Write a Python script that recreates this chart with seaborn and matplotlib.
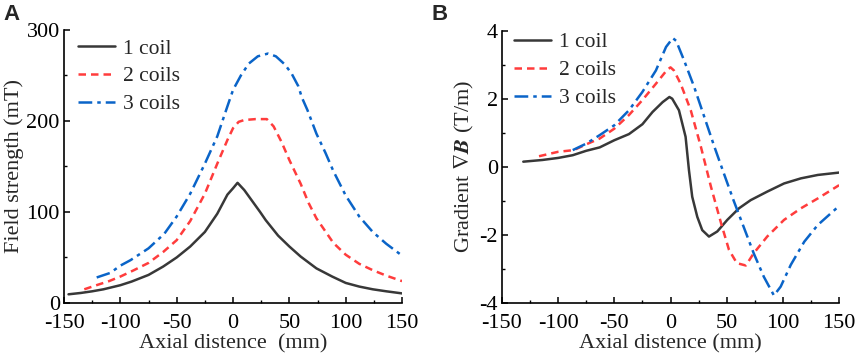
import matplotlib
matplotlib.use("Agg")
import matplotlib.pyplot as plt
import seaborn as sns
from matplotlib.ticker import MultipleLocator

# ---- Panel A: field strength (mT) ----
a1_x = [-146, -135, -125, -115, -100, -90, -75, -62, -50, -38, -25, -14, -5, 0, 4,
        10, 17, 24, 29, 40, 50, 60, 74, 88, 100, 112, 124, 136, 150]
a1_y = [9.5, 11, 12.8, 15, 19.5, 23.5, 30.8, 40, 50, 62, 78, 98, 119, 126, 132,
        124, 112, 100, 91, 74, 62, 51, 38, 29, 22, 18, 15, 12.8, 10.5]

a2_x = [-132, -120, -110, -100, -88, -75, -62, -50, -38, -25, -14, -5, 0, 5, 10,
        20, 30, 36, 43, 50, 60, 67, 74, 89, 100, 112, 124, 136, 150]
a2_y = [15, 20, 24, 29, 36, 44, 56, 69, 90, 120, 153, 179, 192, 199, 201,
        202, 202, 194, 177, 157, 131, 110, 93, 66, 53, 43, 36, 30, 24]

a3_x = [-121, -109, -100, -91, -75, -61, -50, -38, -25, -14, -5, 0, 7, 14, 22,
        31, 38, 46, 52, 58, 61, 66, 74, 82, 89, 100, 112, 124, 136, 150]
a3_y = [28, 33, 41, 47, 60, 76, 95, 120, 153, 183, 216, 234, 250, 263, 271,
        274, 271, 262, 252, 238, 226, 212, 186, 165, 145, 118, 95, 78, 65, 52]

# ---- Panel B: gradient (T/m) ----
b1_x = [-131, -114, -100, -87, -75, -63, -50, -37, -25, -16, -7, -1, 1.5, 7.5,
        13.4, 16.4, 19.3, 23.8, 28.2, 34.2, 41.6, 50.5, 60.9, 71.3, 86, 101,
        116, 131, 150]
b1_y = [0.15, 0.2, 0.26, 0.34, 0.47, 0.57, 0.78, 0.96, 1.25, 1.61, 1.9, 2.05,
        2.0, 1.66, 0.88, -0.1, -0.88, -1.47, -1.86, -2.05, -1.9, -1.56, -1.22,
        -0.98, -0.73, -0.49, -0.34, -0.24, -0.17]

b2_x = [-117, -100, -86, -75, -63, -50, -37, -25, -13, -3, 0, 3, 9, 18, 27, 36,
        45, 52, 59, 67, 74, 86, 101, 116, 131, 150]
b2_y = [0.31, 0.44, 0.49, 0.66, 0.83, 1.12, 1.52, 1.96, 2.44, 2.85, 2.92, 2.83,
        2.44, 1.66, 0.59, -0.59, -1.66, -2.44, -2.83, -2.9, -2.54, -2.05, -1.56,
        -1.22, -0.93, -0.54]

b3_x = [-87, -75, -63, -50, -37, -25, -13, -4, 2, 5, 12, 21, 30, 39, 47.5, 56,
        65, 74, 83, 92, 98, 107, 119, 131, 150]
b3_y = [0.49, 0.68, 0.93, 1.22, 1.66, 2.2, 2.83, 3.52, 3.78, 3.7, 3.13, 2.35,
        1.47, 0.59, -0.2, -0.98, -1.76, -2.54, -3.23, -3.78, -3.52, -2.88, -2.2,
        -1.71, -1.15]

labels = ["1 coil", "2 coils", "3 coils"]
colors = ["#383838", "#ff3c3c", "#0a64c8"]
styles = ["-", (0, (3.0, 2.0)), (0, (5.5, 2.0, 1.4, 2.0))]

sns.set_style("ticks", {"xtick.direction": "in", "ytick.direction": "in"})
plt.rcParams["font.family"] = ["Liberation Serif", "DejaVu Serif"]
plt.rcParams["mathtext.fontset"] = "stix"
plt.rcParams["axes.unicode_minus"] = False
plt.rcParams["axes.edgecolor"] = "black"
plt.rcParams["xtick.color"] = "black"
plt.rcParams["ytick.color"] = "black"

fig = plt.figure(figsize=(8.58, 3.56), dpi=100)
ax_a = fig.add_axes([0.0746, 0.149, 0.394, 0.767])
ax_b = fig.add_axes([0.585, 0.149, 0.393, 0.765])

series_a = [(a1_x, a1_y), (a2_x, a2_y), (a3_x, a3_y)]
series_b = [(b1_x, b1_y), (b2_x, b2_y), (b3_x, b3_y)]

for ax, series, anchor in [(ax_a, series_a, (0.015, 1.0)),
                           (ax_b, series_b, (0.009, 1.025))]:
    for (x, y), lab, c, ls in zip(series, labels, colors, styles):
        sns.lineplot(x=x, y=y, ax=ax, color=c, linestyle=ls, linewidth=1.8,
                     label=lab, sort=False, estimator=None)
    ax.set_xlim(-150, 150)
    ax.xaxis.set_major_locator(MultipleLocator(50))
    ax.xaxis.set_minor_locator(MultipleLocator(25))
    ax.tick_params(which="major", length=4, width=1.1, labelsize=16)
    ax.tick_params(which="minor", length=2.5, width=1.0)
    ax.tick_params(axis="x", pad=8)
    ax.tick_params(axis="y", pad=3)
    for sp in ["left", "bottom"]:
        ax.spines[sp].set_linewidth(1.2)
    sns.despine(ax=ax)
    ax.legend(loc="upper left", bbox_to_anchor=anchor, frameon=False,
              fontsize=15.5, handlelength=1.75, handletextpad=0.35,
              labelspacing=0.36, borderaxespad=0)

ax_a.set_ylim(0, 300)
ax_a.yaxis.set_major_locator(MultipleLocator(100))
ax_a.yaxis.set_minor_locator(MultipleLocator(50))
ax_a.set_xlabel("Axial distence  (mm)", fontsize=16, labelpad=1)
ax_a.set_ylabel("Field strength (mT)", fontsize=16, labelpad=2)

ax_b.set_ylim(-4, 4)
ax_b.yaxis.set_major_locator(MultipleLocator(2))
ax_b.yaxis.set_minor_locator(MultipleLocator(1))
ax_b.set_xlabel("Axial distence (mm)", fontsize=16, labelpad=1)
ax_b.set_ylabel(r"Gradient $\nabla\mathbfit{B}$ (T/m)", fontsize=16, labelpad=2)

fig.text(0.004, 0.99, "A", fontsize=16, fontweight="bold", va="top",
         family="Liberation Sans")
fig.text(0.503, 0.99, "B", fontsize=16, fontweight="bold", va="top",
         family="Liberation Sans")

fig.savefig("out.png", dpi=100)
